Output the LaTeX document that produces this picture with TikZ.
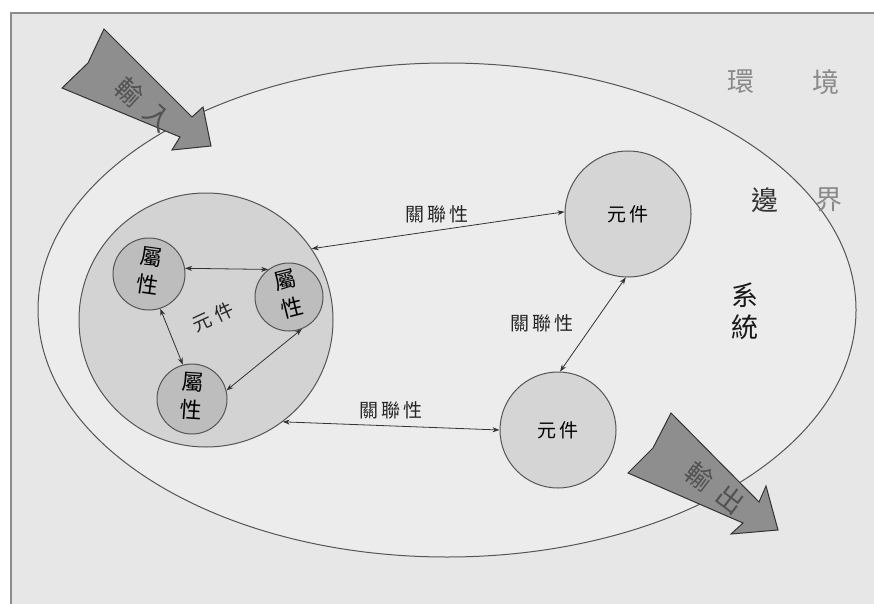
\documentclass[tikz,border=0pt]{standalone}
\usepackage{fontspec}
\newfontfamily\cjk{Noto Sans CJK TC}
\usetikzlibrary{arrows.meta}
\definecolor{bgfill}{HTML}{E7E7E7}
\definecolor{ellfill}{HTML}{ECECEC}
\definecolor{compfill}{HTML}{D3D3D3}
\definecolor{attrfill}{HTML}{BDBDBD}
\definecolor{bigarrow}{HTML}{8E8E8E}
\definecolor{linecol}{HTML}{555555}
\definecolor{txtgray}{HTML}{8A8A8A}
\newcommand{\attrtext}[1]{\rotatebox{#1}{\cjk\fontsize{22}{24}\selectfont\begin{tabular}{@{}c@{}}屬\\[3pt]性\end{tabular}}}
\begin{document}
\begin{tikzpicture}[x=1pt,y=-1pt,
  comp/.style={circle,draw=linecol,line width=1pt,fill=compfill,inner sep=0pt},
  attr/.style={circle,draw=linecol,line width=1pt,fill=attrfill,inner sep=0pt},
  rel/.style={{Stealth[length=7pt,width=5pt]}-{Stealth[length=7pt,width=5pt]},draw=black!80,line width=0.8pt},
  lbl/.style={font=\cjk\fontsize{19}{21}\selectfont,text=black!85,inner sep=1pt},
  big/.style={font=\cjk\fontsize{27}{30}\selectfont,inner sep=0pt},
  arrowshape/.style={fill=bigarrow,draw=black!80,line width=1pt,line join=miter}]
\useasboundingbox (0,0) rectangle (874,604);
% frame and background
\fill[white] (0,0) rectangle (874,604);
\filldraw[fill=bgfill,draw=black!45,line width=2pt] (11,13) rectangle (890,620);
% system boundary ellipse
\filldraw[fill=ellfill,draw=linecol,line width=1pt] (447,310) ellipse [x radius=409, y radius=247];
% environment / boundary / system text
\node[big,text=txtgray] (env1) at (741,82) {環};
\node[big,text=txtgray] (env2) at (826,82) {境};
\node[big,text=black!80] (bd1) at (765,200) {邊};
\node[big,text=txtgray] (bd2) at (829,200) {界};
\node[big,text=black!90,align=center] (sys) at (745,311) {系\\[2pt]統};
% input arrow
\filldraw[arrowshape] (104,29) -- (88,63) -- (62,88) -- (180,137) -- (172,150) -- (211,146) -- (203,107) -- (192,117) -- cycle;
\node[big,text=black!68,rotate=-42] (inp1) at (129,92) {輸};
\node[big,text=black!68,rotate=-42] (inp2) at (158,118) {入};
% big component
\node[comp,minimum size=254pt] (B) at (206,320) {};
\node[lbl,rotate=25] (Bt1) at (202,323) {元};
\node[lbl,rotate=25] (Bt2) at (224,312) {件};
% attributes
\node[attr,minimum size=72pt] (A1) at (149,274) {\attrtext{-8}};
\node[attr,minimum size=68pt] (A2) at (289,297) {\attrtext{14}};
\node[attr,minimum size=70pt] (A3) at (192,399) {\attrtext{-4}};
% other components
\node[comp,minimum size=126pt,fill=compfill!95!white,font=\cjk\fontsize{19}{21}\selectfont] (C1) at (628,214) {元\,件};
\node[comp,minimum size=116pt,fill=compfill!95!white,font=\cjk\fontsize{19}{21}\selectfont] (C2) at (558,430) {元\,件};
% output arrow
\filldraw[arrowshape] (671,413) -- (653,448) -- (628,473) -- (743,523) -- (731,534) -- (778,530) -- (766,486) -- (759,502) -- cycle;
\node[big,text=black!68,rotate=-37] (outp1) at (700,476) {輸};
\node[big,text=black!68,rotate=-37] (outp2) at (730,499) {出};
% relations
\draw[rel] (B.34) -- (C1.178);
\draw[rel] (C1.268) -- (C2.88);
\draw[rel] (B.-53) -- (C2.180);
\draw[rel] (A1.9) -- (A2.127);
\draw[rel] (A1.-72) -- (A3.105);
\draw[rel] (A2.-68) -- (A3.14);
\node[lbl] (r1) at (437,214) {關\,聯\,性};
\node[lbl] (r2) at (542,323) {關\,聯\,性};
\node[lbl] (r3) at (391,410) {關\,聯\,性};
\end{tikzpicture}
\end{document}
